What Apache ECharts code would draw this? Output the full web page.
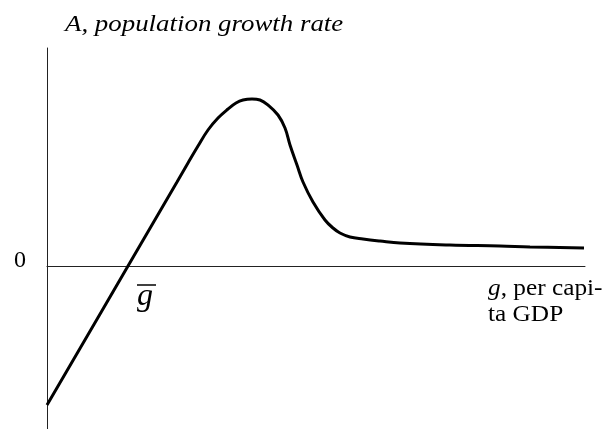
<!DOCTYPE html>
<html><head><meta charset="utf-8">
<script src="https://cdn.jsdelivr.net/npm/echarts@6/dist/echarts.min.js"></script>
<style>html,body{margin:0;padding:0;background:#fff}#c{width:609px;height:429px}</style>
</head><body><div id="c"></div>
<script>
// per capita GDP (g), arbitrary units
const gValues = [0, 81, 130, 141, 151, 161, 171, 181, 189, 196, 205, 213, 221, 231, 238, 243, 250, 256, 266, 278, 286, 293, 303, 316, 333, 353, 403, 453, 483, 537];
// population growth rate (A), arbitrary units
const aValues = [-139, 0, 84, 103, 120, 136, 148, 157, 163, 166, 167, 166, 161, 151, 138, 121, 101, 84, 64, 46, 38, 33, 29, 27, 25, 23, 21, 20, 19, 18];
const gBar = 81;
const yTickLabels = [0];
const yTitle = 'A, population growth rate';
const xTitleItalic = 'g';
const xTitleRest = ', per capi-\nta GDP';

const chart = echarts.init(document.getElementById('c'));
const serif = 'Liberation Serif';
chart.setOption({
  animation: false,
  grid: {left: 47, right: 24, top: 48, bottom: 0},
  xAxis: {type: 'value', min: 0, max: 538,
    axisLine: {onZero: true, lineStyle: {color: '#222', width: 1}},
    axisTick: {show: false}, axisLabel: {show: false}, splitLine: {show: false}},
  yAxis: {type: 'value', min: -163, max: 218,
    axisLine: {show: true, lineStyle: {color: '#222', width: 1}},
    axisTick: {show: false}, splitLine: {show: false},
    axisLabel: {customValues: yTickLabels, margin: 21, verticalAlign: 'bottom', lineHeight: 10, fontFamily: serif, fontSize: 24, color: '#000'}},
  series: [{type: 'line', data: gValues.map((g, i) => [g, aValues[i]]),
    smooth: 0.4, symbol: 'none', lineStyle: {color: '#000', width: 3}}]
});
const p = chart.convertToPixel({gridIndex: 0}, [gBar, 0]);
chart.setOption({
  graphic: [
    {type: 'text', x: 65, y: 13, scaleX: 1.12, style: {text: yTitle, font: 'italic 24px "Liberation Serif"', fill: '#000'}},
    {type: 'text', x: p[0] + 9, y: p[1] + 15, style: {text: 'g', font: 'italic 32px "Liberation Serif"', fill: '#000'}},
    {type: 'line', shape: {x1: p[0] + 9, y1: p[1] + 19, x2: p[0] + 28, y2: p[1] + 19}, style: {stroke: '#000', lineWidth: 1.5}},
    {type: 'text', x: 488, y: 276, scaleX: 1.1, style: {
      text: '{i|' + xTitleItalic + '}' + xTitleRest,
      font: '23px "Liberation Serif"', fill: '#000', lineHeight: 26,
      rich: {i: {fontStyle: 'italic', fontFamily: serif, fontSize: 23, lineHeight: 26, fill: '#000'}}}}
  ]
});
</script></body></html>
